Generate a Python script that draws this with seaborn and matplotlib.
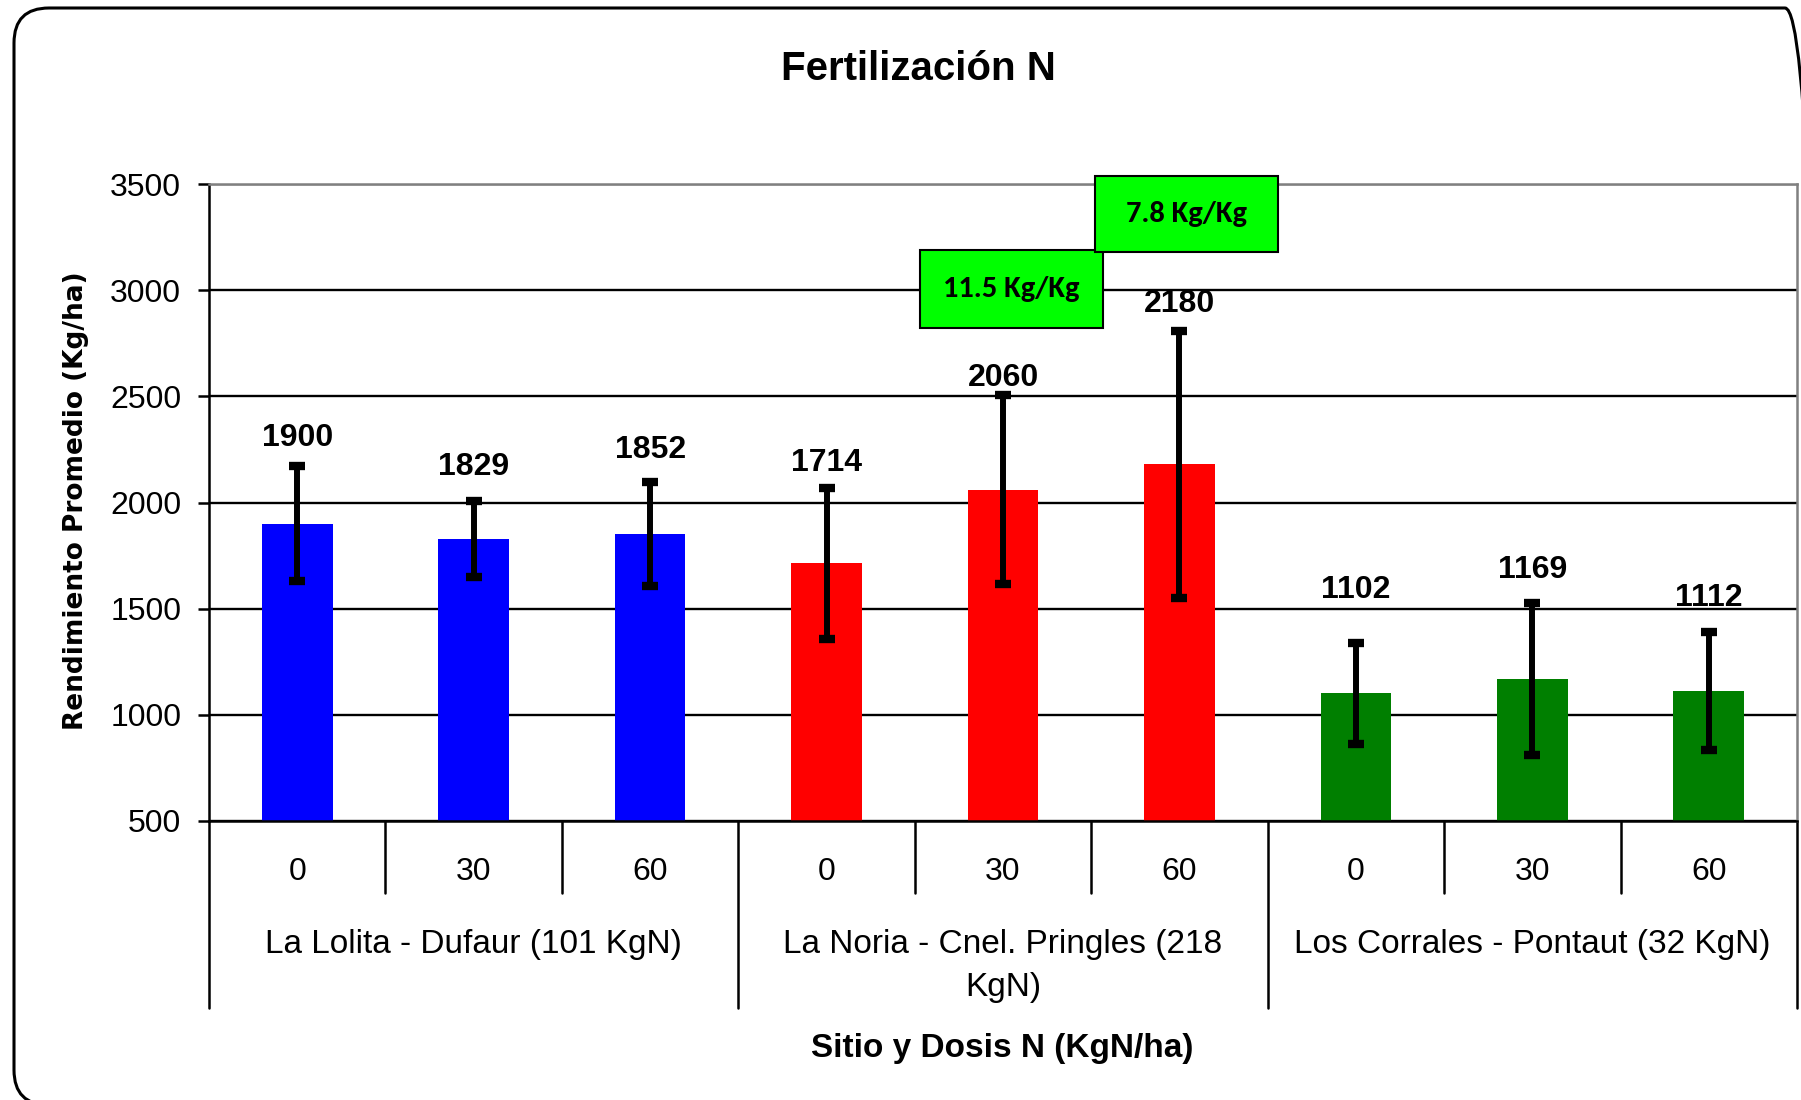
import matplotlib
matplotlib.use('Agg')
import matplotlib.pyplot as plt
import matplotlib.transforms as mtransforms
from matplotlib.patches import FancyBboxPatch, Rectangle
import seaborn as sns
import pandas as pd

# ---------------- data ----------------
sites = ["La Lolita - Dufaur (101 KgN)",
         "La Noria - Cnel. Pringles (218\nKgN)",
         "Los Corrales - Pontaut (32 KgN)"]
doses = ["0", "30", "60"]
site_colors = ["#0000FF", "#FF0000", "#007F00"]
yields = [1900, 1829, 1852, 1714, 2060, 2180, 1102, 1169, 1112]
errors = [270, 178, 245, 355, 445, 630, 238, 357, 276]
efficiency_labels = ["11.5 Kg/Kg", "7.8 Kg/Kg"]
yticks = [500, 1000, 1500, 2000, 2500, 3000, 3500]

# ---------------- style ----------------
sns.set_theme(style="white")
ARIAL = ["Liberation Sans", "DejaVu Sans"]
WIDE = ["DejaVu Sans"]
CALIBRI = ["Carlito", "Liberation Sans", "DejaVu Sans"]
plt.rcParams["font.family"] = ARIAL
for k in ["text.color", "axes.labelcolor", "xtick.color", "ytick.color"]:
    plt.rcParams[k] = "black"

site_col, dose_col, key_col = [], [], []
for si, s in enumerate(sites):
    for d in doses:
        site_col.append(s)
        dose_col.append(d)
        key_col.append(f"{si}-{d}")
df = pd.DataFrame({"site": site_col, "dose": dose_col, "key": key_col,
                   "yield": yields, "err": errors})

fig = plt.figure(figsize=(18.01, 11.0), dpi=100)
ax = fig.add_axes([209 / 1801, 1 - 821 / 1100, (1797 - 209) / 1801, (821 - 184) / 1100])

sns.barplot(data=df, x="key", y="yield", hue="site", order=key_col, hue_order=sites,
            palette=dict(zip(sites, site_colors)), dodge=False, width=0.4,
            errorbar=None, legend=False, saturation=1, linewidth=0, ax=ax, zorder=2)

xpos = list(range(len(yields)))
ax.errorbar(xpos, df["yield"], yerr=df["err"], fmt="none", ecolor="black",
            elinewidth=4.3, capsize=6, capthick=6, zorder=4)

ax.set_xlim(-0.5, len(yields) - 0.5)
ax.set_ylim(yticks[0], yticks[-1])
ax.set_yticks(yticks)
ax.set_xticks([])
ax.set_xlabel("")
ax.set_ylabel("")
ax.yaxis.grid(True, color="black", lw=1.7)
ax.set_axisbelow(True)
ax.tick_params(axis="y", direction="out", length=8, width=1.8, color="black",
               labelsize=23, pad=12, left=True, labelcolor="black")
for side in ["left", "bottom"]:
    ax.spines[side].set_color("black")
    ax.spines[side].set_linewidth(1.8)
for side in ["top", "right"]:
    ax.spines[side].set_color("#808080")
    ax.spines[side].set_linewidth(1.8)

# value labels
label_offsets = [20.7, 24.8, 23.2, 18.2, 12.4, 19.0, 38.0, 24.0, 24.8]
for i, (v, e) in enumerate(zip(yields, errors)):
    ax.annotate(str(v), xy=(i, v + e), xytext=(0, label_offsets[i]),
                textcoords="offset points", ha="center", va="center",
                fontsize=23, fontweight="bold", annotation_clip=False)

# multi-level x axis
trans = mtransforms.blended_transform_factory(ax.transData, ax.transAxes)
for i, d in enumerate(dose_col):
    ax.text(i, -0.080, d, transform=trans, ha="center", va="center", fontsize=23)
for b in range(len(yields) + 1):
    depth = 0.294 if b % 3 == 0 else 0.113
    ax.plot([b - 0.5, b - 0.5], [0, -depth], transform=trans, color="black",
            lw=1.8, clip_on=False)
for g, s in enumerate(sites):
    ax.text(3 * g + 1, -0.170, s, transform=trans, ha="center", va="top",
            fontsize=24, linespacing=1.5)

# efficiency boxes
boxes = [(3.53, 2824, 1.036, 363), (4.52, 3181, 1.036, 357)]
for (bx, by, bw, bh), lab in zip(boxes, efficiency_labels):
    ax.add_patch(Rectangle((bx, by), bw, bh, facecolor="#00FF00", edgecolor="black",
                           lw=1.5, clip_on=False, zorder=6))
    ax.text(bx + bw / 2, by + bh / 2, lab, ha="center", va="center", fontsize=22,
            fontweight="bold", zorder=7, clip_on=False, family=CALIBRI)

# titles
fig.text(0.5097, 1 - 80 / 1100, "Fertilización N", ha="center", va="baseline",
         fontsize=29, fontweight="bold")
fig.text(0.042, 0.5445, "Rendimiento Promedio (Kg/ha)", rotation=90, ha="center",
         va="center", fontsize=19, fontweight="bold", family=WIDE)
fig.text(0.5566, 1 - 1057 / 1100, "Sitio y Dosis N (KgN/ha)", ha="center",
         va="baseline", fontsize=24, fontweight="bold")

# rounded chart frame (right and bottom edges run past the picture)
frame = FancyBboxPatch((0.14, -0.05), 18.06, 10.97,
                       boxstyle="round,pad=0,rounding_size=0.35",
                       transform=fig.dpi_scale_trans, facecolor="none",
                       edgecolor="black", lw=2.2)
fig.patches.append(frame)

fig.savefig("out.png", dpi=100)
